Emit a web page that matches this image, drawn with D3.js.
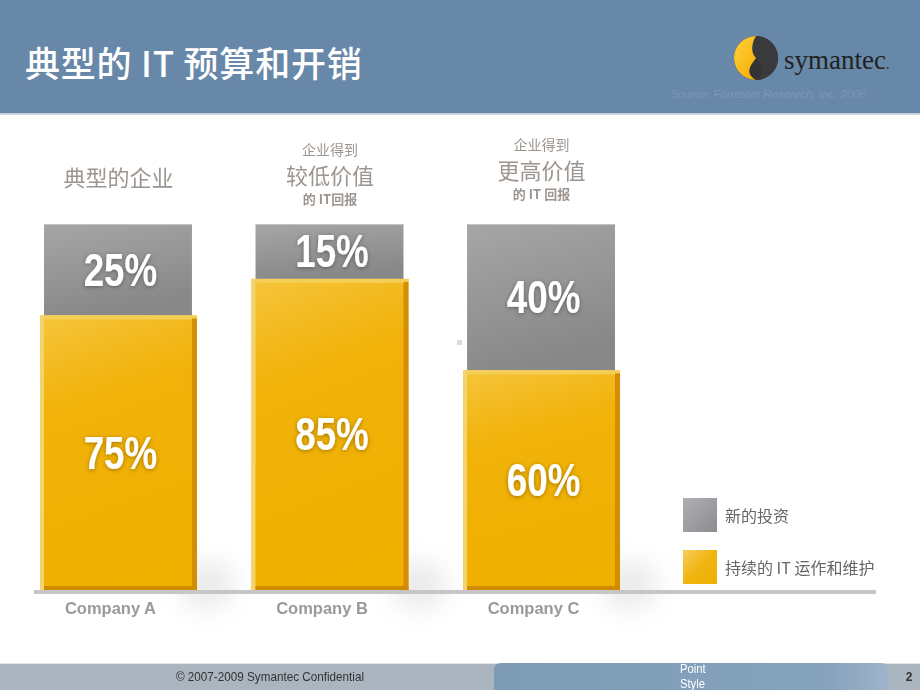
<!DOCTYPE html>
<html><head><meta charset="utf-8">
<script src="https://cdn.jsdelivr.net/npm/d3@7"></script>
<style>html,body{margin:0;padding:0;background:#fff;}svg{display:block;}</style>
</head><body>
<svg id="c" width="920" height="690"></svg>
<script>
const companies = ["Company A", "Company B", "Company C"];
const newInvestment = [25, 15, 40];
const maintenance = [75, 85, 60];
const headerSmall = ["", "企业得到", "企业得到"];
const headerBig = ["典型的企业", "较低价值", "更高价值"];
const headerSub = ["", "的 IT回报", "的 IT 回报"];
const legendLabels = ["新的投资", "持续的 IT 运作和维护"];
const title = "典型的 IT 预算和开销";
const sourceText = "Source: Forrester Research, Inc. 2005";
const footerText = "© 2007-2009 Symantec Confidential";
const pageNum = "2";

const svg = d3.select("#c");
const W = 920, H = 690;
const cjk = "'Noto Sans CJK SC', 'Liberation Sans', Arial, sans-serif";
const sans = "'Liberation Sans', Arial, sans-serif";

const defs = svg.append("defs");
const gGray = defs.append("linearGradient").attr("id","gGray").attr("x1",0).attr("y1",0).attr("x2",0.3).attr("y2",1);
gGray.append("stop").attr("offset","0%").attr("stop-color","#a6a6a6");
gGray.append("stop").attr("offset","100%").attr("stop-color","#888888");
const gYel = defs.append("linearGradient").attr("id","gYel").attr("x1",0).attr("y1",0).attr("x2",0.2).attr("y2",1);
gYel.append("stop").attr("offset","0%").attr("stop-color","#f6c53c");
gYel.append("stop").attr("offset","35%").attr("stop-color","#f1b20a");
gYel.append("stop").attr("offset","100%").attr("stop-color","#f0b000");
const gLegY = defs.append("linearGradient").attr("id","gLegY").attr("x1",0).attr("y1",0).attr("x2",1).attr("y2",1);
gLegY.append("stop").attr("offset","0%").attr("stop-color","#f7cf5a");
gLegY.append("stop").attr("offset","50%").attr("stop-color","#f0b412");
gLegY.append("stop").attr("offset","100%").attr("stop-color","#efb000");
const gLegG = defs.append("linearGradient").attr("id","gLegG").attr("x1",0).attr("y1",0).attr("x2",1).attr("y2",1);
gLegG.append("stop").attr("offset","0%").attr("stop-color","#b0b0b4");
gLegG.append("stop").attr("offset","100%").attr("stop-color","#8c8c90");
const blur = defs.append("filter").attr("id","blur").attr("x","-100%").attr("y","-100%").attr("width","300%").attr("height","300%");
blur.append("feGaussianBlur").attr("stdDeviation",12);
const tsh = defs.append("filter").attr("id","tsh").attr("x","-20%").attr("y","-20%").attr("width","140%").attr("height","140%");
tsh.append("feDropShadow").attr("dx",0).attr("dy",1).attr("stdDeviation",2).attr("flood-color","#000").attr("flood-opacity",0.35);
const gTab = defs.append("linearGradient").attr("id","gTab").attr("x1",0).attr("y1",0).attr("x2",1).attr("y2",0);
gTab.append("stop").attr("offset","0%").attr("stop-color","#7d9ab6");
gTab.append("stop").attr("offset","85%").attr("stop-color","#86a3be");
gTab.append("stop").attr("offset","100%").attr("stop-color","#9fb4c9");
const gLogo = defs.append("linearGradient").attr("id","gLogo").attr("x1",0).attr("y1",0).attr("x2",1).attr("y2",1);
gLogo.append("stop").attr("offset","0%").attr("stop-color","#ffd23a");
gLogo.append("stop").attr("offset","100%").attr("stop-color","#f5a800");

// Header
svg.append("rect").attr("x",0).attr("y",0).attr("width",W).attr("height",113).attr("fill","#6788a8");
svg.append("rect").attr("x",0).attr("y",113).attr("width",W).attr("height",2).attr("fill","#c9d4df");
svg.append("text").attr("x",25).attr("y",77).attr("fill","#fff")
  .attr("font-family",cjk).attr("font-size",35).attr("font-weight",500).attr("letter-spacing",0.8).text(title);
// logo
const lg = svg.append("g").attr("transform","translate(756,58)");
lg.append("circle").attr("r",22).attr("fill","#333");
lg.append("path").attr("d","M0,-22 A22,22 0 0,0 0,22 C-14,14 -2,4 0,0 C2,-6 10,-14 0,-22 Z").attr("fill","url(#gLogo)");
lg.append("path").attr("d","M0,-22 A22,22 0 0,1 0,22 C10,16 6,6 0,0 C-6,-6 -4,-16 0,-22 Z").attr("fill","#3a3a3c");
const logoT = svg.append("text").attr("x",784).attr("y",69).attr("fill","#222")
  .attr("font-family","'Liberation Serif', 'DejaVu Serif', serif").attr("font-size",27);
logoT.append("tspan").text("symantec");
logoT.append("tspan").attr("font-size",14).text(".");
svg.append("text").attr("x",866).attr("y",98).attr("text-anchor","end").attr("fill","#7b98b5")
  .attr("font-family",sans).attr("font-style","italic").attr("font-size",11.5).text(sourceText);

// Scales
const x = d3.scaleBand().domain(companies).range([40, 620]).paddingInner(0.258).paddingOuter(0);
const y = d3.scaleLinear().domain([0, 100]).range([590, 224]);
const bw = x.bandwidth();

const rows = companies.map((c,i)=>({c, i, n:newInvestment[i], m:maintenance[i]}));

// shadows
svg.append("g").selectAll("ellipse").data(rows).join("ellipse")
  .attr("cx", d=>x(d.c)+bw+10).attr("cy", 585).attr("rx", 28).attr("ry", 24)
  .attr("fill","#cccccc").attr("filter","url(#blur)").attr("opacity",0.4);

// gray segments
const gg = svg.append("g");
gg.selectAll("rect").data(rows).join("rect")
  .attr("x", d=>x(d.c)+4).attr("width", bw-9)
  .attr("y", d=>y(d.m+d.n)).attr("height", d=>y(d.m)-y(d.m+d.n))
  .attr("fill","url(#gGray)");
gg.selectAll("line").data(rows).join("line")
  .attr("x1", d=>x(d.c)+4).attr("x2", d=>x(d.c)+bw-5)
  .attr("y1", d=>y(d.m+d.n)+0.5).attr("y2", d=>y(d.m+d.n)+0.5)
  .attr("stroke","#c4c4c4").attr("stroke-width",1);

// yellow segments
const yg = svg.append("g");
yg.selectAll("rect.main").data(rows).join("rect").attr("class","main")
  .attr("x", d=>x(d.c)).attr("width", bw)
  .attr("y", d=>y(d.m)).attr("height", d=>y(0)-y(d.m))
  .attr("fill","url(#gYel)");
yg.selectAll("rect.top").data(rows).join("rect").attr("class","top")
  .attr("x", d=>x(d.c)).attr("width", bw)
  .attr("y", d=>y(d.m)).attr("height", 4).attr("fill","#f5cf55");
yg.selectAll("rect.left").data(rows).join("rect").attr("class","left")
  .attr("x", d=>x(d.c)).attr("width", 4)
  .attr("y", d=>y(d.m)).attr("height", d=>y(0)-y(d.m)).attr("fill","#f3d46c");
yg.selectAll("rect.right").data(rows).join("rect").attr("class","right")
  .attr("x", d=>x(d.c)+bw-5).attr("width", 5)
  .attr("y", d=>y(d.m)+3).attr("height", d=>y(0)-y(d.m)-3).attr("fill","#d48e00");
yg.selectAll("rect.bot").data(rows).join("rect").attr("class","bot")
  .attr("x", d=>x(d.c)+4).attr("width", bw-4)
  .attr("y", y(0)-4).attr("height", 4).attr("fill","#cf8a00");

// percent labels (condensed via horizontal scale)
const pl = svg.append("g").attr("font-family",sans).attr("font-weight","bold").attr("font-size",46)
  .attr("fill","#fff").attr("text-anchor","middle").attr("filter","url(#tsh)");
const lblData = [];
rows.forEach(d=>{
  lblData.push({cx:x(d.c)+bw/2, cy:(y(d.m+d.n)+y(d.m))/2, t:d.n+"%"});
  lblData.push({cx:x(d.c)+bw/2, cy:(y(d.m)+y(0))/2, t:d.m+"%"});
});
pl.selectAll("text").data(lblData).join("text")
  .attr("transform", d=>`translate(${d.cx+2},${d.cy+16}) scale(0.8,1)`)
  .text(d=>d.t);

// baseline
svg.append("rect").attr("x",34).attr("y",590).attr("width",842).attr("height",4).attr("fill","#c6c6c6");

// category labels
svg.append("g").selectAll("text").data(rows).join("text")
  .attr("x", d=>x(d.c)+bw/2-8).attr("y", 614).attr("text-anchor","middle")
  .attr("font-family",sans).attr("font-weight","bold").attr("font-size",16.5).attr("fill","#9a9a9a")
  .text(d=>d.c);

// column headers
const hg = svg.append("g").attr("fill","#9d958f").attr("text-anchor","middle").attr("font-family",cjk);
rows.forEach((d,i)=>{
  const cx = x(d.c)+bw/2;
  if (!headerSmall[i]) {
    hg.append("text").attr("x",cx).attr("y",186).attr("font-size",22).text(headerBig[i]);
  } else {
    const off = i===1 ? 5 : 0;
    hg.append("text").attr("x",cx).attr("y",150+off).attr("font-size",14).text(headerSmall[i]);
    hg.append("text").attr("x",cx).attr("y",179+off).attr("font-size",22).text(headerBig[i]);
    hg.append("text").attr("x",cx).attr("y",199+off).attr("font-size",13).attr("font-weight","bold").text(headerSub[i]);
  }
});

// small square
svg.append("rect").attr("x",457).attr("y",340).attr("width",5).attr("height",5).attr("fill","#dcdcdc");

// legend
const leg = svg.append("g");
const legFills = ["url(#gLegG)", "url(#gLegY)"];
const legY = [498, 550];
legendLabels.forEach((t,i)=>{
  leg.append("rect").attr("x",683).attr("y",legY[i]).attr("width",34).attr("height",34).attr("fill",legFills[i]);
  leg.append("text").attr("x",725).attr("y",legY[i]+24).attr("font-family",cjk).attr("font-size",16)
    .attr("fill","#666").text(t);
});

// footer
svg.append("rect").attr("x",0).attr("y",664).attr("width",W).attr("height",26).attr("fill","#aab5bf");
svg.append("rect").attr("x",0).attr("y",663).attr("width",W).attr("height",1).attr("fill","#e2e6ea");
svg.append("path").attr("d","M494,690 L494,670 Q494,663 502,663 L881,663 Q889,663 889,670 L889,690 Z")
  .attr("fill","url(#gTab)");
svg.append("text").attr("transform","translate(270,681) scale(0.9,1)").attr("text-anchor","middle").attr("font-family",sans)
  .attr("font-size",13).attr("fill","#333").text(footerText);
svg.append("text").attr("transform","translate(680,673) scale(0.9,1)").attr("font-family",sans).attr("font-size",12.5).attr("fill","#fff").text("Point");
svg.append("text").attr("transform","translate(680,688) scale(0.9,1)").attr("font-family",sans).attr("font-size",12.5).attr("fill","#fff").text("Style");
svg.append("text").attr("x",909).attr("y",681).attr("text-anchor","middle").attr("font-family",sans)
  .attr("font-weight","bold").attr("font-size",12).attr("fill","#333").text(pageNum);
</script>
</body></html>
